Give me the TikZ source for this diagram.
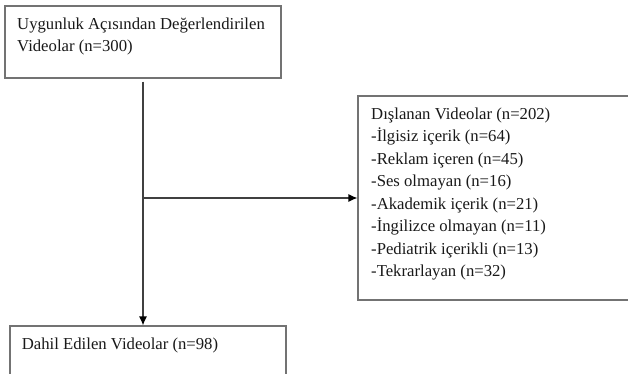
\documentclass[tikz,border=0pt]{standalone}
\usepackage{fontspec}
\setmainfont{Liberation Serif}
\usetikzlibrary{arrows.meta}

\tikzset{
  box/.style={draw=black!55, line width=1.1pt, inner sep=0pt},
  label/.style={anchor=north west, align=left, inner sep=0pt,
    font=\fontsize{16.7}{22.5}\selectfont, text=black!90},
  flow/.style={draw=black!75, line width=1.2pt},
  tip/.style={-{Latex[length=9pt,width=8pt,fill=black,color=black]}},
}

\begin{document}
\begin{tikzpicture}[x=1pt,y=-1pt]
        \useasboundingbox (0,0) rectangle (628,374);
        \clip (0,0) rectangle (628,374);
        % boxes
        \node[box, minimum width=276, minimum height=72] (eval) at (143,42) {};
        \node[box, minimum width=292, minimum height=204] (excl) at (504,198) {};
        \node[box, minimum width=276, minimum height=64] (incl) at (148,358) {};
        % texts
        \node[label] (evaltxt) at (17,17.6) {Uygunluk Açısından Değerlendirilen\\Videolar (n=300)};
        \node[label] (excltxt) at (371,107.6) {Dışlanan Videolar (n=202)\\-İlgisiz içerik (n=64)\\-Reklam içeren (n=45)\\-Ses olmayan (n=16)\\-Akademik içerik (n=21)\\-İngilizce olmayan (n=11)\\-Pediatrik içerikli (n=13)\\-Tekrarlayan (n=32)};
        \node[label] (incltxt) at (21.7,337.6) {Dahil Edilen Videolar (n=98)};
        % connectors
        \coordinate (split) at (143,198);
        \draw[flow, tip] ([yshift=-3pt]eval.south) -- (eval.south |- incl.north);
        \draw[flow, tip] (split) -- (excl.west);
      \end{tikzpicture}
\end{document}
